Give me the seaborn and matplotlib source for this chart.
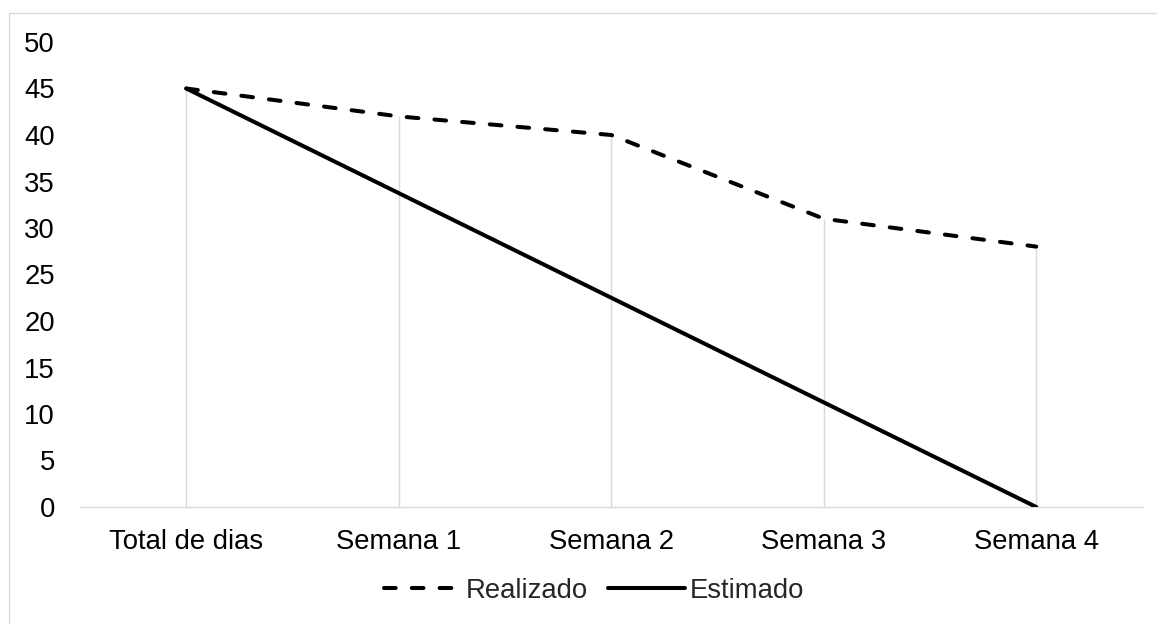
import numpy as np
import pandas as pd
import matplotlib
matplotlib.use("Agg")
import matplotlib.pyplot as plt
import seaborn as sns
from matplotlib.patches import Rectangle

categories = ["Total de dias", "Semana 1", "Semana 2", "Semana 3", "Semana 4"]
realizado = [45, 42, 40, 31, 28]
estimado = [45, 33.75, 22.5, 11.25, 0]
yticks = [0, 5, 10, 15, 20, 25, 30, 35, 40, 45, 50]

sns.set_theme(style="white")
plt.rcParams['font.family'] = ['Liberation Sans', 'DejaVu Sans']

FS = 19.8
LW = 2.9

fig = plt.figure(figsize=(11.57, 6.24), dpi=100)
ax = fig.add_axes([80/1157, 1-507/624, (1142.5-80)/1157, (507-42)/624])

x = np.arange(len(categories))

# drop lines
tops = np.maximum(realizado, estimado)
ax.vlines(x, 0, tops, color="#d9d9d9", lw=1.0, zorder=1)

df_real = pd.DataFrame({"x": x, "y": realizado})
df_est = pd.DataFrame({"x": x, "y": estimado})
sns.lineplot(data=df_real, x="x", y="y", ax=ax, color="black", lw=LW,
             linestyle=(0, (2.9, 4.0)), dash_capstyle="round",
             label="Realizado", zorder=3, legend=False)
sns.lineplot(data=df_est, x="x", y="y", ax=ax, color="black", lw=LW,
             label="Estimado", zorder=3, legend=False)

ax.set_xlim(-0.5, len(categories) - 0.5)
ax.set_ylim(0, 50)
ax.set_yticks(yticks)
ax.set_yticklabels([str(v) for v in yticks], fontsize=FS, color="#000000")
ax.set_xticks(x)
ax.set_xticklabels(categories, fontsize=FS, color="#000000")
ax.set_xlabel(""); ax.set_ylabel("")
ax.tick_params(axis="both", length=0)
ax.tick_params(axis="y", pad=18)
ax.tick_params(axis="x", pad=16)
for s in ["top", "right", "left"]:
    ax.spines[s].set_visible(False)
ax.spines["bottom"].set_color("#d9d9d9")
ax.spines["bottom"].set_linewidth(1.0)
ax.grid(False)

handles, labels = ax.get_legend_handles_labels()
leg = fig.legend(handles, labels, loc="center", bbox_to_anchor=(594/1157, 1-591/624),
                 ncol=2, frameon=False, fontsize=FS, handlelength=2.8,
                 handletextpad=0.15, columnspacing=0.75)

# chart frame (top and left edges visible)
fig.patches.append(Rectangle((9/1157, -0.1), 1.2, (624-13)/624 + 0.1,
                             transform=fig.transFigure, fill=False,
                             edgecolor="#d9d9d9", lw=1.0))

fig.savefig("out.png", dpi=100)
